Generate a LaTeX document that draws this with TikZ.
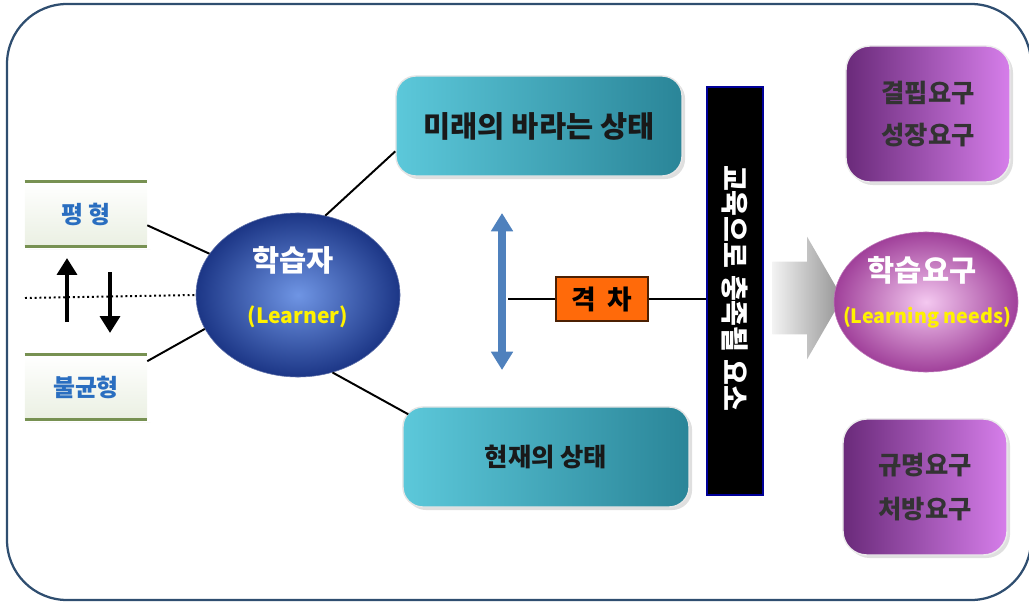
\documentclass[tikz,border=0pt]{standalone}
\usepackage{fontspec}
\usepackage{xcolor}
\newfontfamily\kr{Noto Sans CJK KR}
\usetikzlibrary{arrows.meta,calc,shapes.geometric,shapes.arrows,shadows}
\definecolor{frameblue}{HTML}{2F4E70}
\definecolor{tealL}{HTML}{5CC8DA}
\definecolor{tealD}{HTML}{2A8598}
\definecolor{purpD}{HTML}{6A2A7A}
\definecolor{purpL}{HTML}{D67EEA}
\definecolor{pinkL}{HTML}{F4C8F0}
\definecolor{pinkD}{HTML}{A0409A}
\definecolor{navyD}{HTML}{1C3686}
\definecolor{navyL}{HTML}{6F95E4}
\definecolor{gapor}{HTML}{FF6A0A}
\definecolor{arrblue}{HTML}{4F81BD}
\definecolor{balgreen}{HTML}{8CAA60}
\definecolor{baltext}{HTML}{2A6EC0}
\definecolor{labyel}{HTML}{FFF200}

\begin{document}
\begin{tikzpicture}[x=0.025cm,y=-0.025cm,font=\kr\bfseries,
    statebox/.style={rounded corners=0.5cm,draw=white!80!gray,line width=1pt,left color=tealL,right color=tealD,
      minimum width=7.15cm,minimum height=2.5cm,text=black!90,drop shadow={opacity=0.25}},
    needbox/.style={rounded corners=0.6cm,draw=white!85!gray,line width=1pt,left color=purpD,right color=purpL,
      minimum width=4.1cm,minimum height=3.4cm,align=center,text=black!80,drop shadow={opacity=0.25}},
    balbox/.style={minimum width=3.05cm,minimum height=1.6cm,top color=white,bottom color=balgreen!18,
      font=\kr\bfseries\fontsize{17}{20}\selectfont,text=baltext},
    band/.style={balgreen!85!black,line width=2.5pt},
    link/.style={black,line width=1.4pt},
    bigarr/.style={line width=3pt,-{Triangle[width=14pt,length=12pt]}}
  ]
  \useasboundingbox (0,0) rectangle (1029,603);
  \draw[frameblue,line width=1.6pt,rounded corners=1.5cm] (7,4) rectangle (1031,600);

  % left side
  \node[balbox] (pyeong) at (86,214) {평 형};
  \node[balbox] (bulgyun) at (86,387) {불균형};
  \foreach \b in {pyeong,bulgyun}{
    \draw[band] (\b.north west) -- (\b.north east);
    \draw[band,drop shadow={opacity=0.4}] (\b.south west) -- (\b.south east);
  }
  \node[ellipse,minimum width=5.1cm,minimum height=4.1cm,inner color=navyL,outer color=navyD,draw=navyD!70] (learner) at (298,295) {};
  \node[text=white,font=\kr\bfseries\fontsize{21}{25}\selectfont] (learnerko) at (293,260) {학습자};
  \node[text=labyel,font=\kr\bfseries\fontsize{15}{18}\selectfont] (learneren) at (298,317) {(Learner)};

  \coordinate (dotl) at (25,298);
  \draw[line width=1.4pt,dotted] (dotl) -- (learner.west);
  \coordinate (upb) at (67,322);
  \coordinate (upt) at (67,258);
  \coordinate (dnt) at (110,272);
  \coordinate (dnb) at (110,333);
  \draw[bigarr] (upb) -- (upt);
  \draw[bigarr] (dnt) -- (dnb);

  \draw[link] ($(pyeong.east)!0.35!(pyeong.south east)$) -- (learner.155);
  \draw[link] ($(bulgyun.east)!0.8!(bulgyun.north east)$) -- (learner.200);

  % states
  \node[statebox,font=\kr\bfseries\fontsize{21}{24}\selectfont] (mirae) at (539,126) {미래의 바라는 상태};
  \node[statebox,font=\kr\bfseries\fontsize{18}{21}\selectfont] (hyeonjae) at (546,457) {현재의 상태};
  \draw[link] (learner.71) -- ($(mirae.west)!0.5!(mirae.south west)$);
  \draw[link] (learner.-66) -- ($(hyeonjae.north west)+(6,8)$);

  \coordinate (gaptop) at (502,213);
  \coordinate (gapbot) at (502,370);
  \draw[arrblue,line width=5pt,{Triangle[width=15pt,length=13pt]}-{Triangle[width=15pt,length=13pt]}] (gaptop) -- (gapbot);
  \node[draw=black!70!gapor,line width=1pt,fill=gapor,minimum width=2.3cm,minimum height=1.1cm,
    font=\kr\bfseries\fontsize{19}{22}\selectfont] (gap) at (602,299) {격\hspace{0.45em}차};
  \coordinate (gapl) at (508,299);

  \node[fill=black,draw=blue!60!black,line width=1pt,minimum width=1.4cm,minimum height=10.2cm] (bar) at (735,291) {};
  \node[rotate=-90,text=white,font=\kr\bfseries\fontsize{20}{23}\selectfont] (bartext) at (735,288) {교육으로 충족될 요소};
  \draw[link,line width=2pt] (gapl) -- (gap.west);
  \draw[link,line width=2pt] (gap.east) -- (bar.west |- gap.east);

  % needs
  \node[single arrow,single arrow tip angle=120,single arrow head extend=0.62cm,left color=gray!10,right color=gray!85,
    inner xsep=0pt,inner ysep=0.9cm,minimum height=1.75cm] (flow) at (797,298) {};
  \node[ellipse,minimum width=4.6cm,minimum height=3.5cm,inner color=pinkL,outer color=pinkD,draw=pinkD!70] (needs) at (926,302) {};
  \node[text=white,font=\kr\bfseries\fontsize{21}{25}\selectfont] (needsko) at (922,270) {학습요구};
  \node[text=labyel,font=\kr\bfseries\fontsize{14}{17}\selectfont] (needsen) at (927,318) {(Learning needs)};

  \node[needbox,font=\kr\bfseries\fontsize{18}{30}\selectfont] (lack) at (928,114) {결핍요구\\성장요구};
  \node[needbox,font=\kr\bfseries\fontsize{18}{31}\selectfont] (presc) at (925,487) {규명요구\\처방요구};
\end{tikzpicture}
\end{document}
